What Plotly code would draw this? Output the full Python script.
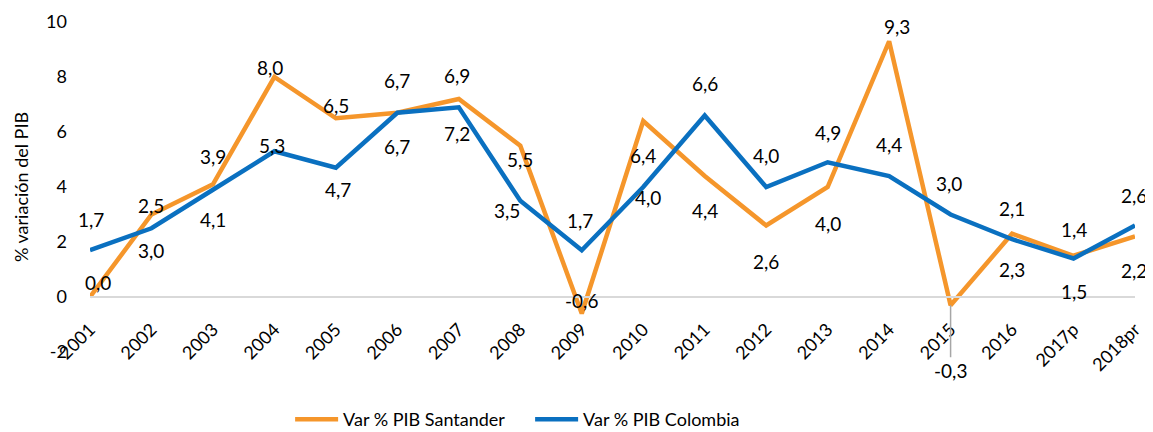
import plotly.graph_objects as go

# ---- data ----
years = ["2001", "2002", "2003", "2004", "2005", "2006", "2007", "2008", "2009",
         "2010", "2011", "2012", "2013", "2014", "2015", "2016", "2017p", "2018pr"]
santander = [0.0, 3.0, 4.1, 8.0, 6.5, 6.7, 7.2, 5.5, -0.6, 6.4, 4.4, 2.6, 4.0, 9.3, -0.3, 2.3, 1.5, 2.2]
colombia = [1.7, 2.5, 3.9, 5.3, 4.7, 6.7, 6.9, 3.5, 1.7, 4.0, 6.6, 4.0, 4.9, 4.4, 3.0, 2.1, 1.4, 2.6]
y_ticks = [-2, 0, 2, 4, 6, 8, 10]

# ---- label placement (pixel offsets from each point; + = up) ----
santander_dy = [15, -36, -35, 10, 13, 32, -34, -14, 13, -34, -34, -36, -36, 15, None, -36, -36, -34]
santander_dx = [8, 0, 0, -4, 0, 0, -2, 0, 0, 0, 0, 0, 0, 8, 0, 0, 0, -1]
colombia_dy = [31, 23, 33, 6, -22, -34, 32, -10, 30, -10, 32, 32, 30, 32, 31, 31, 29, 30]
colombia_dx = [1, 0, 0, -2, 2, 0, -2, -13, -2, 5, 0, 0, 0, 0, -2, 0, 0, -1]

ORANGE = "#F5962B"
BLUE = "#0A70C0"
FONT = "Lato"

def fmt(v):
    return f"{v:.1f}".replace(".", ",")

fig = go.Figure()
fig.add_trace(go.Scatter(x=years, y=santander, mode="lines", name="Var % PIB Santander",
                         line=dict(color=ORANGE, width=4.5)))
fig.add_trace(go.Scatter(x=years, y=colombia, mode="lines", name="Var % PIB Colombia",
                         line=dict(color=BLUE, width=4.5)))

lab_font = dict(family=FONT, size=19, color="#000000")
for i, yr in enumerate(years):
    if santander_dy[i] is None:
        fig.add_annotation(x=i, y=santander[i], text=fmt(santander[i]), showarrow=True,
                           arrowhead=0, arrowwidth=1.5, arrowcolor="#A6A6A6",
                           ax=0, ay=65, standoff=0, font=lab_font)
    else:
        fig.add_annotation(x=i, y=santander[i], text=fmt(santander[i]), showarrow=False,
                           xshift=santander_dx[i], yshift=santander_dy[i], font=lab_font)
    fig.add_annotation(x=i, y=colombia[i], text=fmt(colombia[i]), showarrow=False,
                       xshift=colombia_dx[i], yshift=colombia_dy[i], font=lab_font)

# page body has an 8px margin, so the figure is offset by (8, 8)
fig.update_layout(
    width=1145, height=424,
    margin=dict(l=82, r=18, t=14, b=80, autoexpand=False),
    paper_bgcolor="white", plot_bgcolor="white",
    font=dict(family=FONT, size=18, color="#000000"),
    showlegend=True,
    legend=dict(orientation="h", x=0.1915, xanchor="left", y=-0.205, yanchor="middle",
                font=dict(family=FONT, size=18, color="#000000"),
                itemwidth=43, entrywidth=182, entrywidthmode="pixels",
                bgcolor="rgba(0,0,0,0)"),
    xaxis=dict(type="category", range=[0, len(years) - 1], anchor="free", position=2 / 12,
               showgrid=False, zeroline=False, showline=True, linecolor="#D9D9D9", linewidth=2,
               ticks="", tickangle=-45, automargin=False, ticklabelstandoff=14,
               tickfont=dict(family=FONT, size=18, color="#000000")),
    yaxis=dict(range=[-2, 10], tickvals=y_ticks, ticktext=[str(t) for t in y_ticks],
               showgrid=False, zeroline=False, showline=False, ticks="",
               ticklabelstandoff=22, automargin=False,
               tickfont=dict(family=FONT, size=18, color="#000000"),
               title=dict(text="% variación del PIB", standoff=12,
                          font=dict(family=FONT, size=18, color="#000000"))),
)

fig.write_html("out.html")
